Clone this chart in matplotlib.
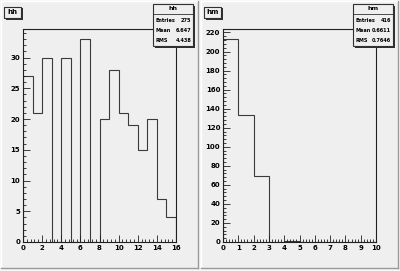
import matplotlib
matplotlib.use('Agg')
import matplotlib.pyplot as plt
from matplotlib.patches import Rectangle
from matplotlib.ticker import MultipleLocator

# histogram hh: 16 bins from 0 to 16
hh_edges = list(range(0, 17))
hh_counts = [27, 21, 30, 0, 30, 0, 33, 0, 20, 28, 21, 19, 15, 20, 7, 4]
hh_stats = [("Entries", "275"), ("Mean", "6.647"), ("RMS", "4.438")]

# histogram hm: 10 bins from 0 to 10
hm_edges = list(range(0, 11))
hm_counts = [213, 133, 69, 0, 1, 0, 0, 0, 0, 0]
hm_stats = [("Entries", "416"), ("Mean", "0.6611"), ("RMS", "0.7646")]

W, H = 400, 271
PAD = '#efefef'
LINE = '#3a3a3a'

fig = plt.figure(figsize=(W / 100, H / 100), dpi=100)
fig.patch.set_facecolor('#f7f7f7')


def fx(x):
    return x / W


def fy(y):
    return 1 - y / H


def rect(x0, y0, x1, y1, z, **kw):
    # pixel box (top-left origin) into figure coords
    r = Rectangle((fx(x0), fy(y1)), fx(x1) - fx(x0), fy(y0) - fy(y1),
                  transform=fig.transFigure, zorder=z, **kw)
    fig.patches.append(r)
    return r


def hline(x0, x1, y, color, z, lw=1):
    fig.add_artist(plt.Line2D([fx(x0), fx(x1)], [fy(y), fy(y)], color=color, lw=lw,
                              transform=fig.transFigure, zorder=z))


def vline(x, y0, y1, color, z, lw=1):
    fig.add_artist(plt.Line2D([fx(x), fx(x)], [fy(y0), fy(y1)], color=color, lw=lw,
                              transform=fig.transFigure, zorder=z))


def pad(x0, x1):
    rect(x0, 1, x1, 268, -5, facecolor=PAD, edgecolor='none')
    # bevel: light top/left, dark bottom/right
    vline(x0, 1, 268, 'white', -4)
    hline(x0, x1, 1, 'white', -4)
    hline(x0, x1, 268, '#9a9a9a', -4)
    vline(x1, 1, 268, '#9a9a9a', -4)


def shadow_box(x0, y0, x1, y1):
    rect(x0 + 1.5, y0 + 1.5, x1 + 1.5, y1 + 1.5, 5, facecolor='#303030', edgecolor='none')
    rect(x0, y0, x1, y1, 6, facecolor=PAD, edgecolor='#303030', lw=0.8)


def draw(x0, edges, counts, name, stats, ymax, xmaj, ymaj):
    pad(x0, x0 + 197)
    ax = fig.add_axes([fx(x0 + 22), fy(242), fx(153), 213 / H])
    ax.set_zorder(1)
    ax.set_facecolor(PAD)
    ax.stairs(counts, edges, color=LINE, lw=0.8, baseline=0)
    ax.set_xlim(edges[0], edges[-1])
    ax.set_ylim(0, ymax)
    for s in ax.spines.values():
        s.set_color('#202020')
        s.set_linewidth(0.8)
    ax.xaxis.set_major_locator(MultipleLocator(xmaj))
    ax.xaxis.set_minor_locator(MultipleLocator(xmaj / 5))
    ax.yaxis.set_major_locator(MultipleLocator(ymaj))
    ax.yaxis.set_minor_locator(MultipleLocator(ymaj / 5))
    ax.tick_params(which='both', direction='in', top=False, right=False,
                   color='#202020', width=0.6)
    ax.tick_params(which='major', length=5, labelsize=5, pad=2)
    ax.tick_params(which='minor', length=2.5)
    for lab in ax.get_xticklabels() + ax.get_yticklabels():
        lab.set_fontweight('bold')

    # title box
    shadow_box(x0 + 3, 7, x0 + 20, 18)
    fig.text(fx(x0 + 11.5), fy(12.5), name, ha='center', va='center',
             fontsize=5, fontweight='bold', color='black', zorder=8)

    # stats box
    sx0, sx1 = x0 + 152, x0 + 192
    shadow_box(sx0, 4, sx1, 46)
    hline(sx0, sx1, 14, '#303030', 7, lw=0.6)
    fig.text(fx((sx0 + sx1) / 2), fy(9), name, ha='center', va='center',
             fontsize=4.5, fontweight='bold', zorder=8)
    for i, (k, v) in enumerate(stats):
        yy = fy(20 + i * 10)
        fig.text(fx(sx0 + 2), yy, k, ha='left', va='center', fontsize=3.6,
                 fontweight='bold', zorder=8)
        fig.text(fx(sx1 - 2), yy, v, ha='right', va='center', fontsize=3.6,
                 fontweight='bold', zorder=8)


draw(1, hh_edges, hh_counts, 'hh', hh_stats, max(hh_counts) * 1.05, 2, 5)
draw(201, hm_edges, hm_counts, 'hm', hm_stats, max(hm_counts) * 1.05, 1, 20)

fig.savefig('out.png', dpi=100, facecolor=fig.get_facecolor())
